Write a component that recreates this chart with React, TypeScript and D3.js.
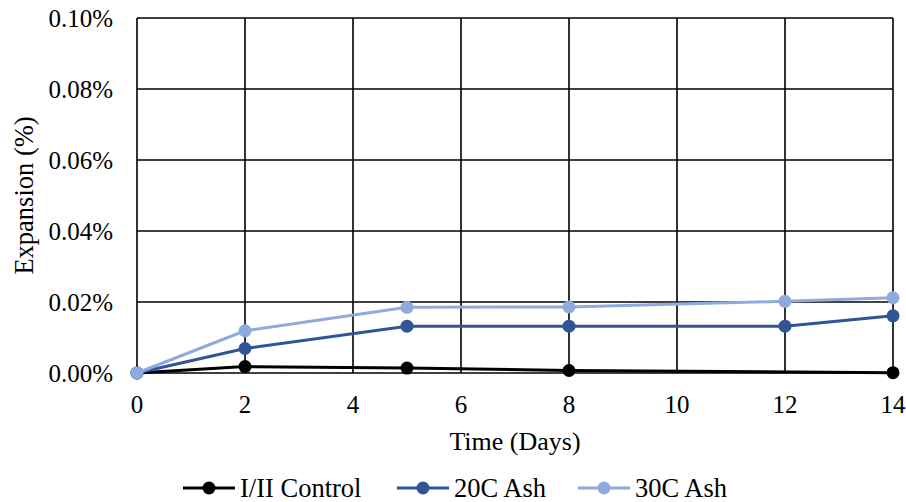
import React from "react";
import * as d3 from "d3";

const xTicks = [0, 2, 4, 6, 8, 10, 12, 14];
const yTicks = [0, 0.02, 0.04, 0.06, 0.08, 0.1];
const yTickLabels = ["0.00%", "0.02%", "0.04%", "0.06%", "0.08%", "0.10%"];

const controlDays = [0, 2, 5, 8, 14];
const controlValues = [0, 0.0018, 0.0014, 0.0007, 0.0001];
const ash20Days = [0, 2, 5, 8, 12, 14];
const ash20Values = [0, 0.0069, 0.0132, 0.0132, 0.0132, 0.0161];
const ash30Days = [0, 2, 5, 8, 12, 14];
const ash30Values = [0, 0.0119, 0.0185, 0.0186, 0.0202, 0.0212];

const seriesNames = ["I/II Control", "20C Ash", "30C Ash"];
const seriesColors = ["#000000", "#2F5597", "#8FAADC"];

const W = 906;
const H = 502;
const left = 137;
const right = 893;
const top = 18;
const bottom = 373;
const font = "'Liberation Serif', 'Times New Roman', serif";

export default function App() {
  const x = d3.scaleLinear().domain([0, 14]).range([left, right]);
  const y = d3.scaleLinear().domain([0, 0.1]).range([bottom, top]);
  const line = d3
    .line<[number, number]>()
    .x((d) => x(d[0]))
    .y((d) => y(d[1]));

  const series = [
    { name: seriesNames[0], color: seriesColors[0], pts: controlDays.map((d, i) => [d, controlValues[i]] as [number, number]) },
    { name: seriesNames[1], color: seriesColors[1], pts: ash20Days.map((d, i) => [d, ash20Values[i]] as [number, number]) },
    { name: seriesNames[2], color: seriesColors[2], pts: ash30Days.map((d, i) => [d, ash30Values[i]] as [number, number]) },
  ];

  const legendX = [183, 397, 578];

  return (
    <svg
      width={W}
      height={H}
      style={{ position: "absolute", left: 0, top: 0, background: "#fff" }}
      fontFamily={font}
    >
      <rect x={0} y={0} width={W} height={H} fill="#fff" />
      {xTicks.map((t) => (
        <line key={"gx" + t} x1={x(t)} x2={x(t)} y1={top} y2={bottom} stroke="#000" strokeWidth={1.6} />
      ))}
      {yTicks.map((t) => (
        <line key={"gy" + t} x1={left} x2={right} y1={y(t)} y2={y(t)} stroke="#000" strokeWidth={1.6} />
      ))}
      {yTicks.map((t, i) => (
        <text key={"yl" + t} x={113} y={y(t)} dy="0.35em" textAnchor="end" fontSize={25} fill="#000">
          {yTickLabels[i]}
        </text>
      ))}
      {xTicks.map((t) => (
        <text key={"xl" + t} x={x(t)} y={413} textAnchor="middle" fontSize={25} fill="#000">
          {t}
        </text>
      ))}
      <text transform={`translate(33, ${(top + bottom) / 2}) rotate(-90)`} textAnchor="middle" fontSize={26.5} fill="#000">
        Expansion (%)
      </text>
      <text x={(left + right) / 2} y={450} textAnchor="middle" fontSize={26} fill="#000">
        Time (Days)
      </text>
      {series.map((s) => (
        <g key={s.name}>
          <path d={line(s.pts) || ""} fill="none" stroke={s.color} strokeWidth={3} />
          {s.pts.map((p, i) => (
            <circle key={i} cx={x(p[0])} cy={y(p[1])} r={6.5} fill={s.color} />
          ))}
        </g>
      ))}
      {series.map((s, i) => (
        <g key={"lg" + s.name} transform={`translate(${legendX[i]}, 488)`}>
          <line x1={0} x2={52} y1={0} y2={0} stroke={s.color} strokeWidth={3} />
          <circle cx={26} cy={0} r={6.5} fill={s.color} />
          <text x={57} y={9} fontSize={26.5} fill="#000">
            {s.name}
          </text>
        </g>
      ))}
    </svg>
  );
}
